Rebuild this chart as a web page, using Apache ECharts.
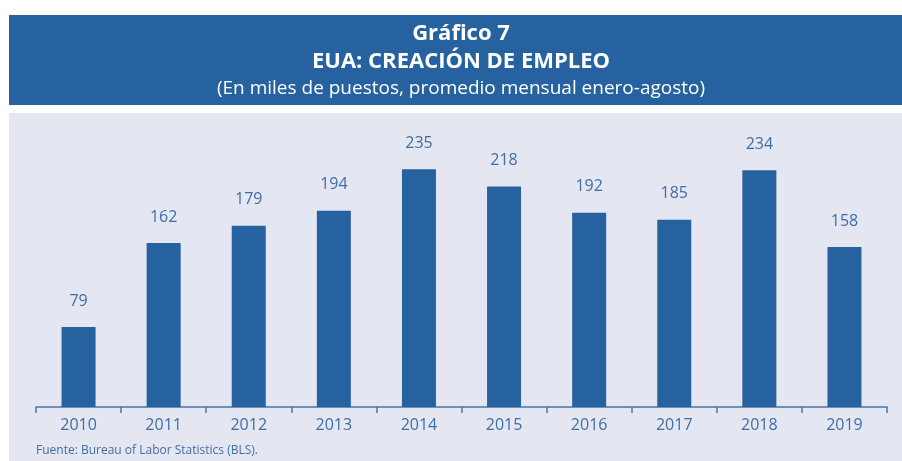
<!DOCTYPE html>
<html>
<head>
<meta charset="utf-8">
<script src="https://cdn.jsdelivr.net/npm/echarts@6/dist/echarts.min.js"></script>
<style>
  html, body { margin: 0; padding: 0; background: #fff; }
  #chart { width: 902px; height: 461px; }
</style>
</head>
<body>
<div id="chart"></div>
<script>
// datos: creación de empleo EUA, miles de puestos
const years = ['2010', '2011', '2012', '2013', '2014', '2015', '2016', '2017', '2018', '2019'];
const empleo = [79, 162, 179, 194, 235, 218, 192, 185, 234, 158];

const azul = '#2662a0';
const texto = '#3f6ea6';
const fuente = '"Open Sans", "Noto Sans", sans-serif';

const myChart = echarts.init(document.getElementById('chart'));

// textos del titulo centrados sobre x = 461
function titulo(txt, y, size, weight) {
    return {
        type: 'text', x: 461, y: y,
        style: { text: txt, fill: '#fff', font: weight + ' ' + size + 'px ' + fuente, textAlign: 'center', textVerticalAlign: 'middle' }
    };
}

myChart.setOption({
    animation: false,
    textStyle: { fontFamily: fuente },
    graphic: [
        // banda del titulo
        { type: 'rect', left: 9, top: 15, shape: { width: 893, height: 90 }, style: { fill: azul }, z: -10 },
        // fondo gris del grafico
        { type: 'rect', left: 9, top: 113, shape: { width: 893, height: 348 }, style: { fill: '#e4e6f1' }, z: -10 },
        titulo('Gráfico 7', 34, 22, 'bold'),
        titulo('EUA: CREACIÓN DE EMPLEO', 62, 22, 'bold'),
        titulo('(En miles de puestos, promedio mensual enero-agosto)', 89, 19, 'normal'),
        {
            type: 'text', left: 36, top: 445,
            style: { text: 'Fuente: Bureau of Labor Statistics (BLS).', fill: texto, font: '12px ' + fuente }
        }
    ],
    grid: { left: 36, right: 15, top: 154, bottom: 54 },
    xAxis: {
        type: 'category',
        data: years,
        axisLine: { lineStyle: { color: '#4a74a8', width: 1.5 } },
        axisTick: { show: true, length: 6, lineStyle: { color: '#4a74a8', width: 1.5 } },
        axisLabel: { color: texto, fontSize: 16, margin: 10 }
    },
    yAxis: {
        type: 'value',
        min: 0,
        max: 250,
        show: false,
        splitLine: { show: false }
    },
    series: [{
        type: 'bar',
        data: empleo,
        barWidth: 34,
        itemStyle: { color: azul },
        label: { show: true, position: 'top', distance: 18, color: texto, fontSize: 16 }
    }]
});
</script>
</body>
</html>
